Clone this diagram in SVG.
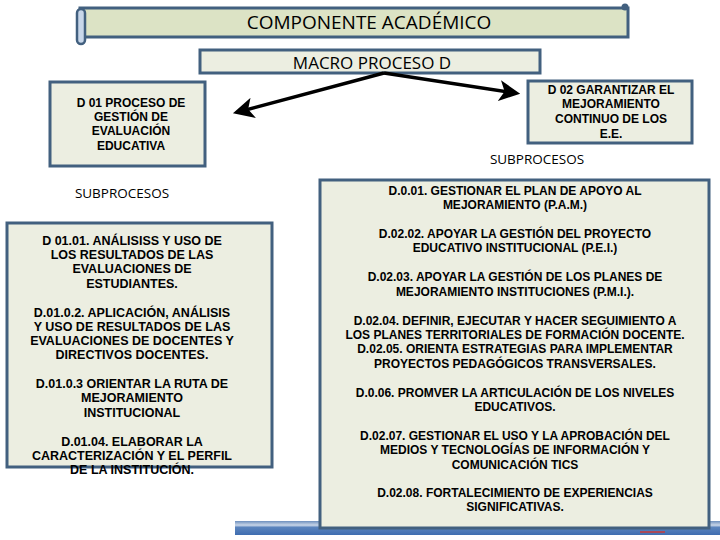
<svg xmlns="http://www.w3.org/2000/svg" width="720" height="540" viewBox="0 0 720 540">
<defs>
<style>
.box{fill:#eceee1;stroke:#42607f;stroke-width:3}
.t{font-family:"Liberation Sans",Arial,sans-serif;font-weight:bold;font-size:12px;fill:#000;text-anchor:middle}
.l{font-size:12.5px}
.r{font-family:"Open Sans","Liberation Sans",sans-serif;font-size:13.5px;fill:#000;text-anchor:middle}
.con{stroke:#000;stroke-width:3.5;fill:none}
</style>
<marker id="ah" markerWidth="6" markerHeight="6" refX="4.5" refY="3" orient="auto" markerUnits="strokeWidth">
<path d="M0,0 L6,3 L0,6 L1.5,3 Z" fill="#000"/>
</marker>
<linearGradient id="bar" x1="0" y1="0" x2="0" y2="1">
<stop offset="0" stop-color="#6d8fbd"/>
<stop offset="0.3" stop-color="#c9d6e8"/>
<stop offset="0.45" stop-color="#5b84bd"/>
<stop offset="1" stop-color="#3f6db0"/>
</linearGradient>
</defs>
<rect width="720" height="540" fill="#fff"/>
<rect x="235" y="521" width="485" height="14" fill="url(#bar)"/>
<line x1="640" y1="532" x2="665" y2="532" stroke="#c83a3a" stroke-width="1.5"/>

<g id="header">
<rect x="80" y="8" width="548" height="29" fill="#dce3c5" stroke="#42607f" stroke-width="3"/>
<rect x="77" y="9" width="8" height="35" rx="4" fill="#c8d7ea" stroke="#42607f" stroke-width="2.5"/>
<circle cx="625" cy="7" r="3.5" fill="#42607f"/>
<text x="369" y="29" class="r" style="font-size:19px">COMPONENTE ACADÉMICO</text>
</g>

<g id="macro">
<rect x="200" y="50" width="340" height="23" fill="#eceee1" stroke="#42607f" stroke-width="3"/>
<text x="372" y="69" class="r" style="font-size:17px">MACRO PROCESO D</text>
</g>

<g id="connectors">
<polyline class="con" points="384,73 238,112" marker-end="url(#ah)"/>
<polyline class="con" points="384,73 515,93" marker-end="url(#ah)"/>
</g>

<g id="d01">
<rect class="box" x="50" y="82" width="155" height="84"/>
<text class="t" x="131" y="107">D 01 PROCESO DE</text>
<text class="t" x="131" y="121">GESTIÓN DE</text>
<text class="t" x="131" y="135">EVALUACIÓN</text>
<text class="t" x="131" y="150">EDUCATIVA</text>
</g>

<g id="d02">
<rect class="box" x="528" y="81" width="164" height="62"/>
<text class="t" x="611" y="94">D 02 GARANTIZAR EL</text>
<text class="t" x="611" y="108">MEJORAMIENTO</text>
<text class="t" x="611" y="123">CONTINUO DE LOS</text>
<text class="t" x="611" y="138">E.E.</text>
</g>

<text class="r" x="122" y="198">SUBPROCESOS</text>
<text class="r" x="537" y="164">SUBPROCESOS</text>

<g id="sub-d01">
<rect class="box" x="7" y="223" width="265" height="244"/>
<text class="t l" x="132" y="245">D 01.01. ANÁLISISS Y USO DE</text>
<text class="t l" x="132" y="259">LOS RESULTADOS DE LAS</text>
<text class="t l" x="132" y="273">EVALUACIONES DE</text>
<text class="t l" x="132" y="288">ESTUDIANTES.</text>
<text class="t l" x="132" y="317">D.01.0.2. APLICACIÓN, ANÁLISIS</text>
<text class="t l" x="132" y="331">Y USO DE RESULTADOS DE LAS</text>
<text class="t l" x="132" y="345">EVALUACIONES DE DOCENTES Y</text>
<text class="t l" x="132" y="359">DIRECTIVOS DOCENTES.</text>
<text class="t l" x="132" y="388">D.01.0.3 ORIENTAR LA RUTA DE</text>
<text class="t l" x="132" y="402">MEJORAMIENTO</text>
<text class="t l" x="132" y="417">INSTITUCIONAL</text>
<text class="t l" x="132" y="446">D.01.04. ELABORAR  LA</text>
<text class="t l" x="132" y="460">CARACTERIZACIÓN Y EL PERFIL</text>
<text class="t l" x="132" y="474">DE LA INSTITUCIÓN.</text>
</g>

<g id="sub-d02">
<rect class="box" x="320" y="180" width="389" height="348"/>
<text class="t" x="515" y="195">D.0.01. GESTIONAR EL PLAN DE APOYO AL</text>
<text class="t" x="515" y="209">MEJORAMIENTO (P.A.M.)</text>
<text class="t" x="515" y="238">D.02.02. APOYAR LA GESTIÓN DEL PROYECTO</text>
<text class="t" x="515" y="252">EDUCATIVO INSTITUCIONAL (P.E.I.)</text>
<text class="t" x="515" y="281">D.02.03. APOYAR LA GESTIÓN DE LOS PLANES DE</text>
<text class="t" x="515" y="296">MEJORAMIENTO INSTITUCIONES (P.M.I.).</text>
<text class="t" x="515" y="325">D.02.04. DEFINIR, EJECUTAR Y HACER SEGUIMIENTO A</text>
<text class="t" x="515" y="339">LOS PLANES TERRITORIALES DE FORMACIÓN DOCENTE.</text>
<text class="t" x="515" y="353">D.02.05. ORIENTA ESTRATEGIAS PARA IMPLEMENTAR</text>
<text class="t" x="515" y="368">PROYECTOS PEDAGÓGICOS TRANSVERSALES.</text>
<text class="t" x="515" y="397">D.0.06. PROMVER LA ARTICULACIÓN DE LOS NIVELES</text>
<text class="t" x="515" y="411">EDUCATIVOS.</text>
<text class="t" x="515" y="440">D.02.07. GESTIONAR EL USO Y LA APROBACIÓN DEL</text>
<text class="t" x="515" y="454">MEDIOS Y TECNOLOGÍAS DE INFORMACIÓN Y</text>
<text class="t" x="515" y="469">COMUNICACIÓN TICS</text>
<text class="t" x="515" y="497">D.02.08. FORTALECIMIENTO DE EXPERIENCIAS</text>
<text class="t" x="515" y="511">SIGNIFICATIVAS.</text>
</g>
</svg>
